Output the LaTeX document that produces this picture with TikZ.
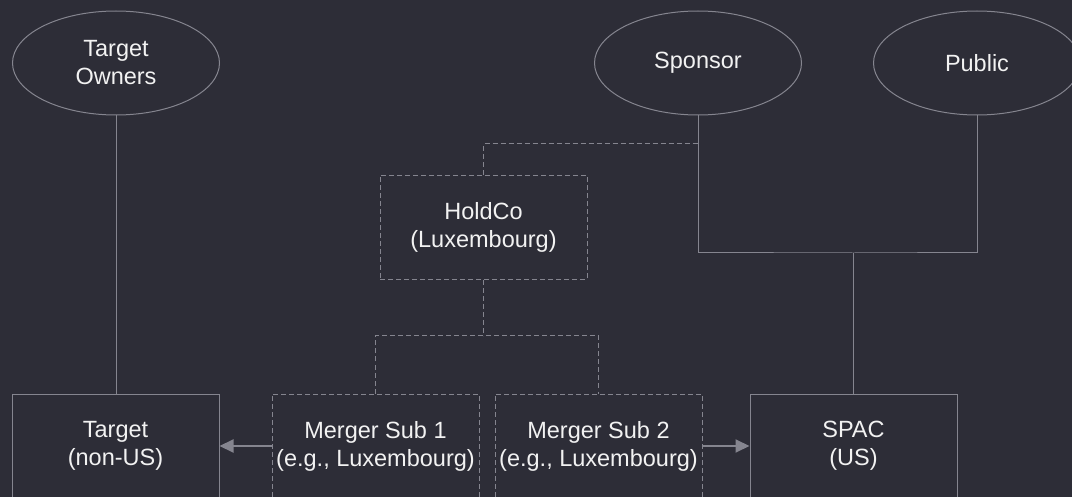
\documentclass[tikz,border=0pt]{standalone}
\usepackage{fontspec}
\setmainfont{Liberation Sans}
\usetikzlibrary{shapes.geometric,arrows.meta}
\definecolor{bgdark}{HTML}{2D2D37}
\definecolor{linegray}{HTML}{85858F}
\definecolor{textwhite}{HTML}{F2F2F2}

\begin{document}
\begin{tikzpicture}[x=1pt,y=-1pt,
	holder/.style={draw=linegray,ellipse,line width=1pt,minimum width=207pt,minimum height=104pt,inner sep=0,text=textwhite,align=center,font=\fontsize{23.5}{28}\selectfont},
	entity/.style={draw=linegray,rectangle,line width=1pt,minimum width=207pt,minimum height=104pt,inner sep=0,text=textwhite,align=center,font=\fontsize{23.5}{28}\selectfont},
	newco/.style={entity,dash pattern=on 5pt off 3pt},
	own/.style={draw=linegray,line width=1pt},
	newown/.style={own,dash pattern=on 5pt off 3pt},
	merge/.style={draw=linegray,line width=2pt,-{Triangle[length=14pt,width=13pt]}}]
	\fill[bgdark] (0,0) rectangle (1072,497);
	\useasboundingbox (0,0) rectangle (1072,497);
	\node[holder] (owners) at (116,63) {Target\\Owners};
	\node[holder] (sponsor) at (698,63) {Sponsor};
	\node[holder] (public) at (977,63) {Public};
	\node[newco] (holdco) at (483.5,227.5) {HoldCo\\(Luxembourg)};
	\node[entity] (target) at (115.5,446) {Target\\(non-US)};
	\node[newco] (sub1) at (375.5,446) {Merger Sub 1\\(e.g., Luxembourg)};
	\node[newco] (sub2) at (598.5,446) {Merger Sub 2\\(e.g., Luxembourg)};
	\node[entity] (spac) at (853.5,446) {SPAC\\(US)};
	\coordinate (spacjoin) at (853.5,253);
	\coordinate (sponsorcut) at (698,144);
	\coordinate (subjoin) at (483.5,336);
	\draw[own] (owners) -- (owners |- target.north);
	\draw[own] (sponsor) |- (spacjoin) -| (public);
	\draw[own] (spacjoin) -- (spac);
	\draw[newown] (holdco) |- (sponsorcut);
	\draw[newown] (holdco) -- (subjoin);
	\draw[newown] (sub1) |- (subjoin) -| (sub2);
	\draw[merge] (sub1) -- (target);
	\draw[merge] (sub2) -- (spac);
\end{tikzpicture}
\end{document}
